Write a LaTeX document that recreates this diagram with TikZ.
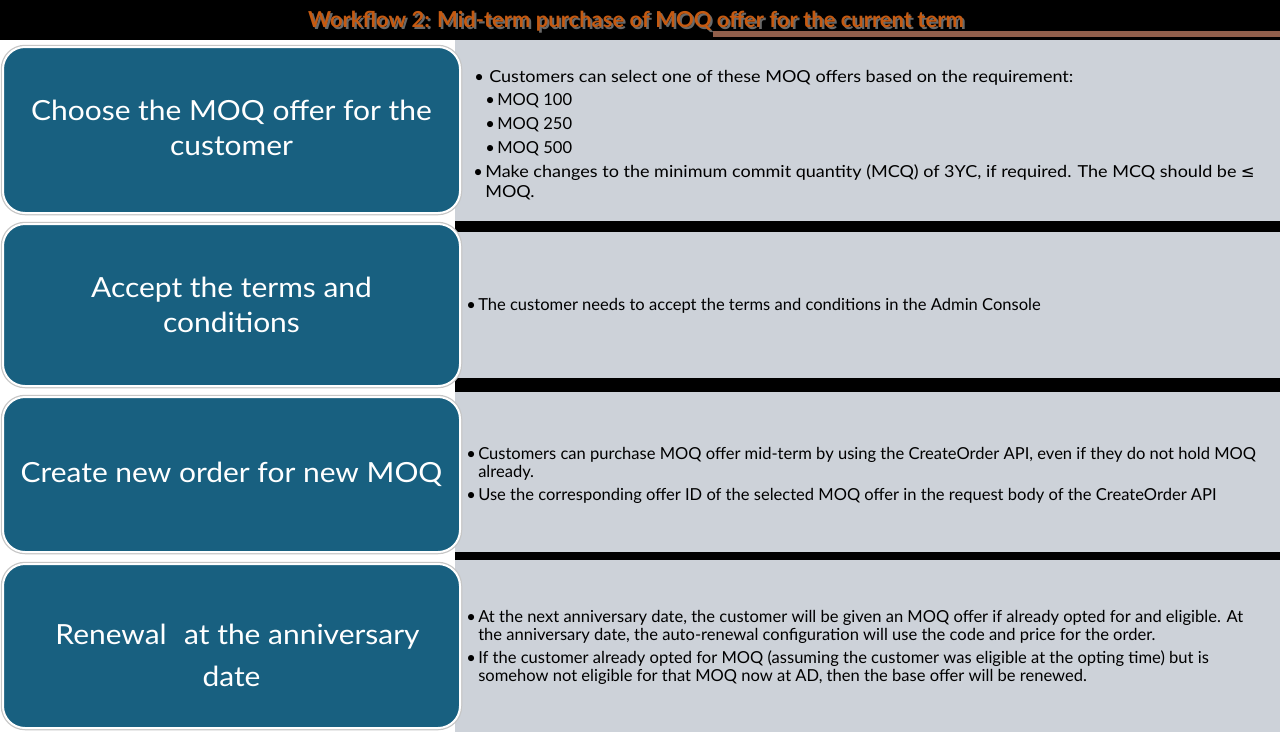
\documentclass[tikz,border=0pt]{standalone}
\usepackage{fontspec}
\setmainfont{Lato}
\newfontfamily\boxfont[FakeStretch=1.08]{Lato}
\newfontfamily\widefont[FakeStretch=1.09]{Lato}
\newfontfamily\symfont{DejaVu Sans}
\definecolor{bluebox}{RGB}{24,96,128}
\definecolor{panelgray}{RGB}{205,210,217}
\definecolor{titleorange}{RGB}{197,90,17}
\definecolor{titleshadow}{RGB}{105,105,105}
\definecolor{brownbar}{RGB}{145,95,75}
\def\px{*0.75pt}
\begin{document}
\begin{tikzpicture}[x=0.75pt,y=-0.75pt,
  stepbox/.style={draw=white, line width=2\px, fill=bluebox, rounded corners=22\px,
    preaction={draw=gray!45, line width=4.5\px},
    inner sep=0pt, minimum width=457\px},
  steptext/.style={text=white, font=\boxfont\fontsize{20.8}{26.2}\selectfont, align=center, inner sep=0pt},
  panel/.style={fill=panelgray, draw=none, inner sep=0pt, anchor=north west},
  bodytext/.style={font=\fontsize{12.4}{15}\selectfont, text=black, inner sep=0pt, anchor=base west},
  widetext/.style={bodytext, font=\widefont\fontsize{12.4}{15}\selectfont},
  titletext/.style={font=\bfseries\fontsize{16.5}{20}\selectfont, inner sep=0pt, anchor=base}]
% background
\fill[black] (0,0) rectangle (1280,732);
\useasboundingbox (0,0) rectangle (1280,732);
% title decoration bar
\fill[brownbar] (713,31) rectangle (1280,37);
\node[titletext, text=titleshadow] (titleshadow) at (638,29.5) {Workflow 2: Mid-term purchase of MOQ offer for the current term};
\node[titletext, text=titleorange] (title) at (636,27.5) {Workflow 2: Mid-term purchase of MOQ offer for the current term};
% gray panels
\node[panel, minimum width=825\px, minimum height=181\px] (p1) at (455,40) {};
\node[panel, minimum width=825\px, minimum height=146\px] (p2) at (455,232) {};
\node[panel, minimum width=825\px, minimum height=160\px] (p3) at (455,392) {};
\node[panel, minimum width=825\px, minimum height=172\px] (p4) at (455,560) {};
% white backing behind step boxes
\fill[white] (0,40) rectangle (455,732);
% step boxes
\node[stepbox, minimum height=166\px] (s1) at (231.5,130) {};
\node[stepbox, minimum height=162\px] (s2) at (231.5,305) {};
\node[stepbox, minimum height=155\px] (s3) at (231.5,474.5) {};
\node[stepbox, minimum height=164\px] (s4) at (231.5,646) {};
\node[steptext] (s1t) at ([yshift=1.5pt]s1.center) {Choose the MOQ offer for the\\customer};
\node[steptext] (s2t) at (s2.center) {Accept the terms and\\conditions};
\node[steptext] (s3t) at (s3.center) {Create new order for new MOQ};
\node[steptext, font=\boxfont\fontsize{20.8}{31.5}\selectfont] (s4t) at ([yshift=-7pt]s4.center) {\hspace*{9pt}Renewal\hspace{0.35em} at the anniversary\\date};
% panel 1 text
\node[bodytext] (p1b1) at (474,82) {•};
\node[widetext] (p1t1) at (489,82) {Customers can select one of these MOQ offers based on the requirement:};
\node[bodytext] (p1b2) at (485,105) {•};
\node[bodytext] (p1t2) at (497,105) {MOQ 100};
\node[bodytext] (p1b3) at (485,129) {•};
\node[bodytext] (p1t3) at (497,129) {MOQ 250};
\node[bodytext] (p1b4) at (485,153) {•};
\node[bodytext] (p1t4) at (497,153) {MOQ 500};
\node[bodytext] (p1b5) at (473,177) {•};
\node[widetext] (p1t5) at (485,177) {Make changes to the minimum commit quantity (MCQ) of 3YC, if required. The MCQ should be {\symfont ≤}};
\node[widetext] (p1t6) at (485,197) {MOQ.};
% panel 2 text
\node[bodytext] (p2b1) at (466,310) {•};
\node[bodytext] (p2t1) at (478,310) {The customer needs to accept the terms and conditions in the Admin Console};
% panel 3 text
\node[bodytext] (p3b1) at (466,459) {•};
\node[bodytext] (p3t1) at (478,459) {Customers can purchase MOQ offer mid-term by using the CreateOrder API, even if they do not hold MOQ};
\node[bodytext] (p3t2) at (478,477) {already.};
\node[bodytext] (p3b2) at (466,500) {•};
\node[bodytext] (p3t3) at (478,500) {Use the corresponding offer ID of the selected MOQ offer in the request body of the CreateOrder API};
% panel 4 text
\node[bodytext] (p4b1) at (466,622) {•};
\node[bodytext] (p4t1) at (478,622) {At the next anniversary date, the customer will be given an MOQ offer if already opted for and eligible. At};
\node[bodytext] (p4t2) at (478,640) {the anniversary date, the auto-renewal configuration will use the code and price for the order.};
\node[bodytext] (p4b2) at (466,663) {•};
\node[bodytext] (p4t3) at (478,663) {If the customer already opted for MOQ (assuming the customer was eligible at the opting time) but is};
\node[bodytext] (p4t4) at (478,681) {somehow not eligible for that MOQ now at AD, then the base offer will be renewed.};
\end{tikzpicture}
\end{document}
